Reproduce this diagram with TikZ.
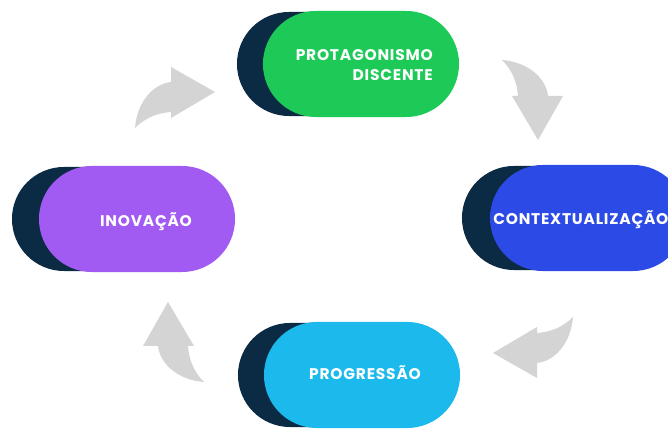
\documentclass[tikz,border=0pt]{standalone}
\usepackage{fontspec}
\newfontfamily\pillfont{Poppins}[LetterSpace=5]
\usetikzlibrary{shapes.misc}
\definecolor{navyback}{HTML}{0B2B45}
\definecolor{protaggreen}{HTML}{1DCA58}
\definecolor{contextblue}{HTML}{2B4AE6}
\definecolor{inovpurple}{HTML}{A15BF2}
\definecolor{progcyan}{HTML}{1BB9EC}
\definecolor{arrowgray}{HTML}{D4D4D4}
\tikzset{
  pill/.style={rounded rectangle, minimum width=4.9cm, minimum height=2.65cm, inner sep=0pt},
  backpill/.style={pill, minimum height=2.6cm, fill=navyback},
  pilltext/.style={text=white, font=\pillfont\bfseries\fontsize{11}{14}\selectfont, inner sep=0pt},
  turnarrow/.pic={
    \fill[arrowgray] (0,0) -- (-44,25) -- (-44,10)
      .. controls (-62,8) and (-78,-10) .. (-80,-36)
      .. controls (-70,-26) and (-58,-21) .. (-44,-20)
      -- (-44,-26) -- cycle;
  }
}
\begin{document}
\begin{tikzpicture}[x=0.025cm, y=0.025cm]
                    \clip (0,0) rectangle (668,432);
                    \fill[white] (0,0) rectangle (668,432);
                    \node[backpill] (protag-back) at (335,368) {};
                    \node[pill, fill=protaggreen] (protag) at (361,368) {};
                    \node[pilltext, anchor=east, align=right] (protag-text) at (433,367) {PROTAGONISMO\\DISCENTE};
                    \node[backpill] (context-back) at (560,214) {};
                    \node[pill, fill=contextblue] (context) at (588,214) {};
                    \node[pilltext, anchor=west] (context-text) at (493,212) {CONTEXTUALIZAÇÃO};
                    \node[backpill] (prog-back) at (336,57) {};
                    \node[pill, fill=progcyan] (prog) at (362,57) {};
                    \node[pilltext] (prog-text) at (365,59) {PROGRESSÃO};
                    \node[backpill] (inov-back) at (110,213) {};
                    \node[pill, fill=inovpurple] (inov) at (137,213) {};
                    \node[pilltext] (inov-text) at (146,210) {INOVAÇÃO};
                    \coordinate (arrow-tl) at (215,340);
                    \coordinate (arrow-tr) at (538,292);
                    \coordinate (arrow-br) at (493,79);
                    \coordinate (arrow-bl) at (168,130);
                    \pic at (arrow-tl) {turnarrow};
                    \pic[rotate=-90] at (arrow-tr) {turnarrow};
                    \pic[rotate=180] at (arrow-br) {turnarrow};
                    \pic[rotate=90] at (arrow-bl) {turnarrow};
\end{tikzpicture}
\end{document}
